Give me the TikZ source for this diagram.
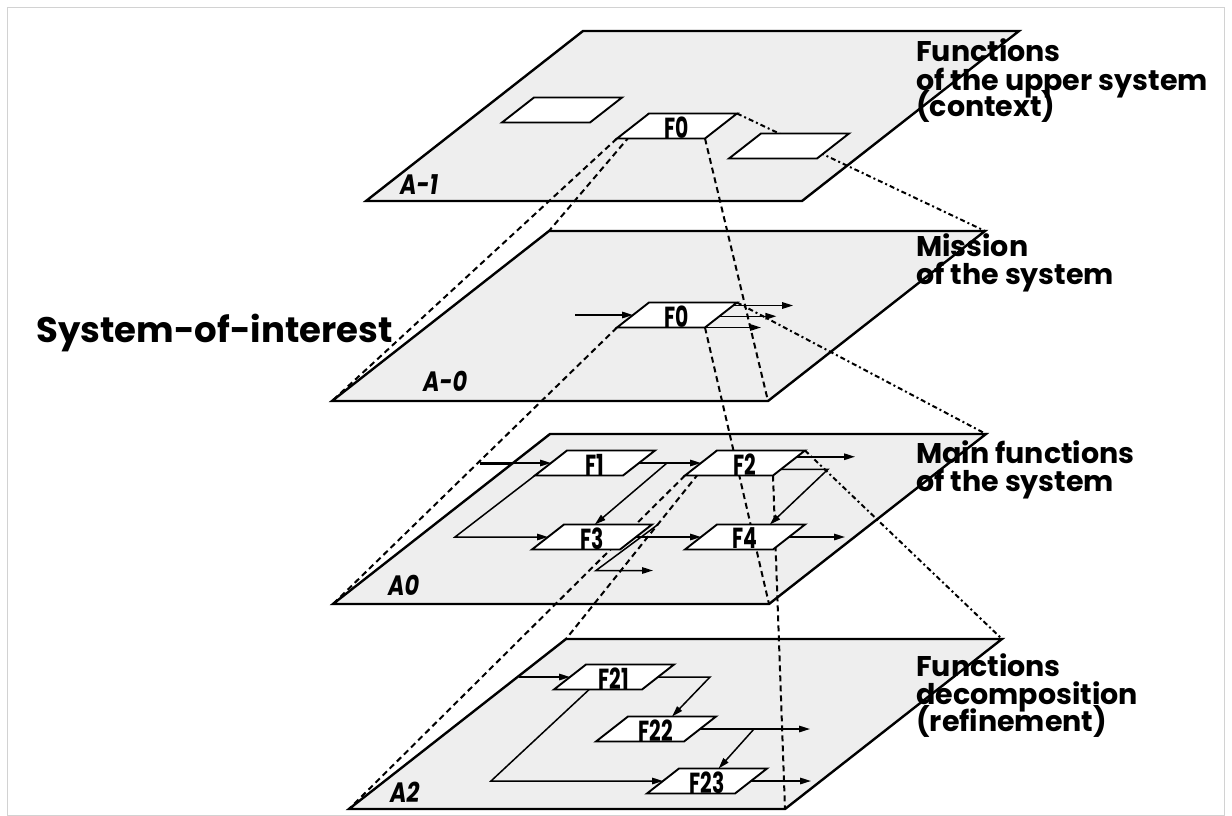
\documentclass[tikz,border=0pt]{standalone}
\usepackage{fontspec}
\usepackage{graphicx}
\setmainfont{Poppins}
\usetikzlibrary{arrows.meta,calc}
\newcommand\cond[1]{\scalebox{0.7}[1]{#1}}
\newcommand\pcond[1]{\scalebox{0.8}[1]{#1}}
\newcommand\boxcoords[3]{%
  \coordinate (#1-c) at (#2,#3);
  \coordinate (#1-tl) at ({#2-28},{#3-12.5});
  \coordinate (#1-tr) at ({#2+60},{#3-12.5});
  \coordinate (#1-br) at ({#2+28},{#3+12.5});
  \coordinate (#1-bl) at ({#2-60},{#3+12.5});
  \coordinate (#1-w) at ({#2-44},#3);
  \coordinate (#1-e) at ({#2+44},#3);
}
\newcommand\boxdraw[2]{%
  \draw[boxline] (#1-tl) -- (#1-tr) -- (#1-br) -- (#1-bl) -- cycle;
  \node[boxlabel] (#1) at ($(#1-c)+(0,1.5)$) {\cond{#2}};
}
\newcommand\planecoords[3]{%
  \coordinate (#1-tl) at (#2,#3);
  \coordinate (#1-tr) at ({#2+436},#3);
  \coordinate (#1-br) at ({#2+219},{#3+170});
  \coordinate (#1-bl) at ({#2-217},{#3+170});
}
\newcommand\planedraw[1]{%
  \draw[planefill] (#1-tl) -- (#1-tr) -- (#1-br) -- (#1-bl) -- cycle;
}
\begin{document}
\begin{tikzpicture}[x=1pt,y=-1pt,
  planefill/.style={draw=black, line width=2.4pt, fill=gray!13, line join=miter},
  boxline/.style={draw=black, line width=1.9pt, fill=white},
  boxlabel/.style={font=\bfseries\fontsize{29}{29}\selectfont, inner sep=0pt},
  arr/.style={line width=1.5pt, -{Triangle[length=11pt,width=6.5pt]}},
  proj/.style={line width=2pt, dash pattern=on 6pt off 4pt},
  projdot/.style={line width=2pt, dash pattern=on 5pt off 3pt on 2pt off 3pt},
  lbl/.style={font=\bfseries\fontsize{28.5}{28}\selectfont, anchor=base west, inner sep=0pt},
  bigl/.style={font=\bfseries\fontsize{35.5}{36}\selectfont, anchor=base west, inner sep=0pt},
  plbl/.style={font=\bfseries\itshape\fontsize{28}{28}\selectfont, anchor=base west, inner sep=0pt}
]
\useasboundingbox (0,0) rectangle (1232,816);
\draw[gray!35, line width=1pt] (7.5,7.5) rectangle (1224.5,815.5);

% planes
\planecoords{Pm1}{583}{31}
\planecoords{Pm0}{549}{231}
\planecoords{P0}{550}{434}
\planecoords{P2}{566}{639}
\planedraw{Pm1}
\planedraw{Pm0}
\planedraw{P0}
\planedraw{P2}

% box coordinates
\boxcoords{Bl}{562}{110}
\boxcoords{Fa}{677}{126}
\boxcoords{Br}{789}{146}
\boxcoords{Fb}{677}{315}
\boxcoords{F1}{595}{463}
\boxcoords{F2}{745}{463}
\boxcoords{F3}{592}{537}
\boxcoords{F4}{745}{537}
\boxcoords{F21}{614}{677}
\boxcoords{F22}{656}{729}
\boxcoords{F23}{707}{781}

% projection lines
\draw[proj] (Fa-bl) -- (Pm0-bl);
\draw[proj] (Fa-tl) -- (Pm0-tl);
\draw[proj] (Fa-br) -- (Pm0-br);
\draw[projdot] (Fa-tr) -- (Pm0-tr);
\draw[proj] (Fb-bl) -- (P0-bl);
\draw[proj] (Fb-br) -- (P0-br);
\draw[projdot] (Fb-tr) -- (P0-tr);
\draw[proj] (F2-bl) -- (P2-bl);
\draw[proj] (F2-tl) -- (P2-tl);
\draw[proj] (F2-br) -- (P2-br);
\draw[projdot] (F2-tr) -- (P2-tr);

% arrows A-0
\coordinate (inb) at (575,315);
\draw[arr] (inb) -- (Fb-w);
\draw[arr] ($(Fb-tr)!0.12!(Fb-br)$) -- ++(60,0);
\draw[arr] ($(Fb-tr)!0.55!(Fb-br)$) -- ++(57,0);
\draw[arr] (Fb-br) -- ++(56,0);

% arrows A0
\coordinate (in0) at (480,463);
\draw[line width=3pt] (in0) -- ++(32,0);
\draw[arr] (in0) -- (F1-w);
\draw[arr] ($(F1-bl)!0.2!(F1-tl)$) -- ($(F3-w)+(-93,0)$) -- (F3-w);
\draw[arr] (F1-e) -- (F2-w);
\draw[arr] ($(F1-e)+(28,0)$) -- ($(F3-tl)!0.35!(F3-tr)$);
\draw[arr] ($(F2-tr)!0.25!(F2-br)$) -- ++(58,0);
\draw[arr] ($(F2-tr)!0.75!(F2-br)$) -- ++(47,0) -- ($(F4-tl)!0.6!(F4-tr)$);
\draw[arr] (F3-e) -- (F4-w);
\draw[arr] (F4-e) -- ++(56,0);
\draw[arr] ($(F3-tr)+(6,0)$) -- ++(-62,46) -- ++(57,0);

% arrows A2
\coordinate (in2) at (519,677);
\draw[arr] (in2) -- (F21-w);
\draw[arr] (F21-e) -- ++(52,0) -- ($(F22-tl)!0.5!(F22-tr)$);
\draw[arr] ($(F21-bl)!0.4!(F21-br)$) -- ($(F23-w)+(-172,0)$) -- (F23-w);
\draw[arr] (F22-e) -- ++(110,0);
\draw[arr] ($(F22-e)+(54,0)$) -- ($(F23-tl)!0.45!(F23-tr)$);
\draw[arr] (F23-e) -- ++(60,0);

% boxes
\boxdraw{Bl}{}
\boxdraw{Fa}{F0}
\boxdraw{Br}{}
\boxdraw{Fb}{F0}
\boxdraw{F1}{F1}
\boxdraw{F2}{F2}
\boxdraw{F3}{F3}
\boxdraw{F4}{F4}
\boxdraw{F21}{F21}
\boxdraw{F22}{F22}
\boxdraw{F23}{F23}

% plane labels
\node[plbl] (lAm1) at (400,194) {\pcond{A-1}};
\node[plbl] (lAm0) at (423,391) {\pcond{A-0}};
\node[plbl] (lA0) at (388,595) {\pcond{A0}};
\node[plbl] (lA2) at (390,802) {\pcond{A2}};

% right labels
\node[lbl] (t1a) at (916,62) {Functions};
\node[lbl] (t1b) at (916,90) {of the upper system};
\node[lbl] (t1c) at (916,117) {(context)};
\node[lbl] (t2a) at (916,256) {Mission};
\node[lbl] (t2b) at (916,284) {of the system};
\node[lbl] (t3a) at (916,463) {Main functions};
\node[lbl] (t3b) at (916,491) {of the system};
\node[lbl] (t4a) at (916,676) {Functions};
\node[lbl] (t4b) at (916,704) {decomposition};
\node[lbl] (t4c) at (916,731) {(refinement)};
\node[bigl] (soi) at (36,342) {System-of-interest};
\end{tikzpicture}
\end{document}
